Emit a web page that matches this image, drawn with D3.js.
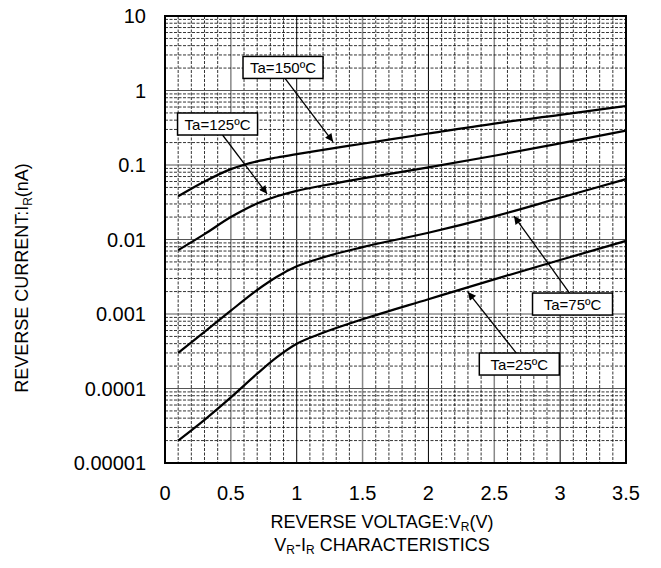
<!DOCTYPE html>
<html>
<head>
<meta charset="utf-8">
<style>
body { margin: 0; background: #fff; }
svg text { font-family: "Liberation Sans", Arial, sans-serif; fill: #000; }
.tick-label { font-size: 20px; }
.title { font-size: 18px; }
.note { font-size: 15px; }
</style>
</head>
<body>
<svg width="661" height="568"></svg>
<script src="https://cdn.jsdelivr.net/npm/d3@7"></script>
<script>
// reverse voltage (V) where each curve was read
var volts = [0.1, 0.3, 0.5, 0.7, 0.85, 1.0, 1.2, 1.5, 2.0, 2.5, 3.0, 3.5];

// reverse current (nA) per temperature
var ir150 = [0.038, 0.06, 0.088, 0.112, 0.126, 0.14, 0.16, 0.193, 0.265, 0.36, 0.47, 0.62];
var ir125 = [0.0072, 0.0118, 0.02, 0.0305, 0.038, 0.045, 0.053, 0.066, 0.093, 0.133, 0.195, 0.29];
var ir75  = [0.0003, 0.000575, 0.00111, 0.0021, 0.00316, 0.00436, 0.00575, 0.0079, 0.0123, 0.0204, 0.0363, 0.0646];
var ir25  = [0.00002, 0.000038, 0.000076, 0.000158, 0.000263, 0.000398, 0.00056, 0.00085, 0.00158, 0.00292, 0.0053, 0.0096];

var xTicks = [0, 0.5, 1, 1.5, 2, 2.5, 3, 3.5];
var xTickLabels = ["0", "0.5", "1", "1.5", "2", "2.5", "3", "3.5"];
var yTicks = [0.00001, 0.0001, 0.001, 0.01, 0.1, 1, 10];
var yTickLabels = ["0.00001", "0.0001", "0.001", "0.01", "0.1", "1", "10"];

// labels: text, box centre (V, nA), arrow start offset, arrow tip (V, nA)
var notes = [
  { text: "Ta=150ºC", bx: 0.896, by: 2.04,    dx: 2,  tx: 1.276, ty: 0.205 },
  { text: "Ta=125ºC", bx: 0.399, by: 0.355,   dx: 5,  tx: 0.775, ty: 0.041 },
  { text: "Ta=75ºC",  bx: 3.094, by: 0.00136, dx: -3, tx: 2.65,  ty: 0.0206 },
  { text: "Ta=25ºC",  bx: 2.69,  by: 0.000213, dx: -3, tx: 2.30, ty: 0.00197 }
];

var svg = d3.select("svg");
var plotLeft = 165, plotRight = 626, plotTop = 16, plotBottom = 463;

var x = d3.scaleLinear().domain([0, 3.5]).range([plotLeft, plotRight]);
var y = d3.scaleLog().domain([0.00001, 10]).range([plotBottom, plotTop]);

var grid = svg.append("g");

// vertical grid every 0.1 V
d3.range(1, 35).forEach(function(i) {
  var v = i / 10;
  var line = grid.append("line")
      .attr("x1", x(v)).attr("x2", x(v))
      .attr("y1", plotTop).attr("y2", plotBottom);
  if (i % 10 == 0) {
    line.attr("stroke", "#000").attr("stroke-width", 1);
  } else if (i % 5 == 0) {
    line.attr("stroke", "#888").attr("stroke-width", 1.5);
  } else {
    line.attr("stroke", "#000").attr("stroke-width", 0.8).attr("stroke-dasharray", "3,1.5");
  }
});

// horizontal log grid
for (var e = -5; e < 1; e++) {
  for (var m = 1; m < 10; m++) {
    var v = m * Math.pow(10, e);
    if (m == 1 && e == -5) continue;
    var line = grid.append("line")
        .attr("x1", plotLeft).attr("x2", plotRight)
        .attr("y1", y(v)).attr("y2", y(v));
    if (m == 1) {
      line.attr("stroke", "#555").attr("stroke-width", 1.2);
    } else {
      line.attr("stroke", "#000").attr("stroke-width", 0.8).attr("stroke-dasharray", "3,1.5");
    }
  }
}

svg.append("rect")
    .attr("x", plotLeft).attr("y", plotTop)
    .attr("width", plotRight - plotLeft).attr("height", plotBottom - plotTop)
    .attr("fill", "none").attr("stroke", "#000").attr("stroke-width", 2);

// curves
var line = d3.line()
    .x(function(d) { return x(d[0]); })
    .y(function(d) { return y(d[1]); })
    .curve(d3.curveMonotoneX);

[ir150, ir125, ir75, ir25].forEach(function(series) {
  svg.append("path")
      .datum(volts.map(function(v, i) { return [v, series[i]]; }))
      .attr("d", line)
      .attr("fill", "none")
      .attr("stroke", "#000")
      .attr("stroke-width", 2.2);
});

// ticks
xTicks.forEach(function(t, i) {
  svg.append("text").attr("class", "tick-label")
      .attr("x", x(t)).attr("y", plotBottom + 37)
      .attr("text-anchor", "middle")
      .text(xTickLabels[i]);
});
yTicks.forEach(function(t, i) {
  svg.append("text").attr("class", "tick-label")
      .attr("x", plotLeft - 19).attr("y", y(t) + 7)
      .attr("text-anchor", "end")
      .text(yTickLabels[i]);
});

// axis titles
var xt = svg.append("text").attr("class", "title")
    .attr("x", 382).attr("y", 528).attr("text-anchor", "middle");
xt.append("tspan").text("REVERSE VOLTAGE:V");
xt.append("tspan").attr("font-size", "12px").attr("dy", 3).text("R");
xt.append("tspan").attr("dy", -3).text("(V)");

var xt2 = svg.append("text").attr("class", "title")
    .attr("x", 382).attr("y", 551).attr("text-anchor", "middle");
xt2.append("tspan").text("V");
xt2.append("tspan").attr("font-size", "12px").attr("dy", 3).text("R");
xt2.append("tspan").attr("dy", -3).text("-I");
xt2.append("tspan").attr("font-size", "12px").attr("dy", 3).text("R");
xt2.append("tspan").attr("dy", -3).text(" CHARACTERISTICS");

var yt = svg.append("text").attr("class", "title")
    .attr("transform", "translate(28,278) rotate(-90)")
    .attr("text-anchor", "middle");
yt.append("tspan").text("REVERSE CURRENT:I");
yt.append("tspan").attr("font-size", "12px").attr("dy", 4).text("R");
yt.append("tspan").attr("dy", -4).text("(nA)");

// annotations
svg.append("defs").append("marker")
    .attr("id", "arrow")
    .attr("viewBox", "0 0 10 10")
    .attr("refX", 10).attr("refY", 5)
    .attr("markerWidth", 11).attr("markerHeight", 8)
    .attr("markerUnits", "userSpaceOnUse")
    .attr("orient", "auto")
  .append("path")
    .attr("d", "M0,0 L10,5 L0,10 z")
    .attr("fill", "#000");

notes.forEach(function(n) {
  var cx = x(n.bx), cy = y(n.by);
  var w = 80, h = 22;
  var sy = n.ty < n.by ? cy + h / 2 : cy - h / 2;
  svg.append("line")
      .attr("x1", cx + n.dx).attr("y1", sy)
      .attr("x2", x(n.tx)).attr("y2", y(n.ty))
      .attr("stroke", "#000").attr("stroke-width", 1.3)
      .attr("marker-end", "url(#arrow)");
  svg.append("rect")
      .attr("x", cx - w / 2).attr("y", cy - h / 2)
      .attr("width", w).attr("height", h)
      .attr("fill", "#fff").attr("stroke", "#000").attr("stroke-width", 1.5);
  svg.append("text").attr("class", "note")
      .attr("x", cx).attr("y", cy + 5.5)
      .attr("text-anchor", "middle")
      .text(n.text);
});
</script>
</body>
</html>
